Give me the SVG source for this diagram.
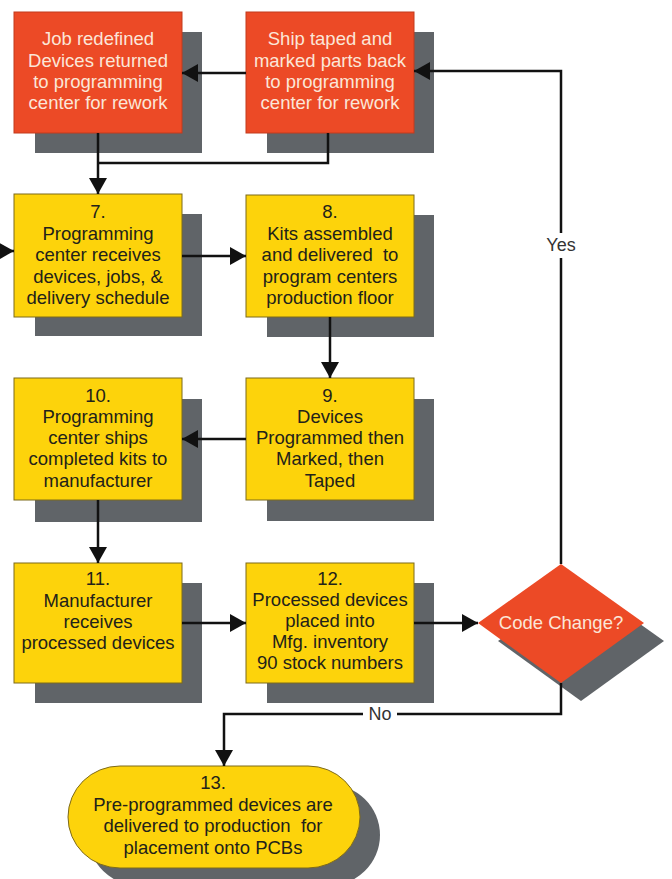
<svg xmlns="http://www.w3.org/2000/svg" width="672" height="879" viewBox="0 0 672 879">
<defs>
<style>
.sh{fill:#606468}
.red{fill:#ec4a26;stroke:#c23a1c;stroke-width:1}
.yel{fill:#fdd30b;stroke:#7d6a1a;stroke-width:1}
.t{font-family:"Liberation Sans",Arial,sans-serif;font-size:18.5px;text-anchor:middle;white-space:pre}
.dk{fill:#22221a}
.lt{fill:#fbe6d8}
.ln{fill:none;stroke:#111;stroke-width:2.5}
.lbl{font-family:"Liberation Sans",Arial,sans-serif;font-size:18px;text-anchor:middle;fill:#333}
</style>
<marker id="ah" markerUnits="userSpaceOnUse" viewBox="0 0 16 18" refX="16" refY="9" markerWidth="16" markerHeight="18" orient="auto">
<path d="M0,0 L16,9 L0,18 z" fill="#111"/>
</marker>
</defs>
<rect width="672" height="879" fill="#fff"/>

<g id="n1">
<rect class="sh" x="35" y="32" width="167" height="121"/>
<rect class="red" x="14" y="12" width="168" height="121"/>
<text class="t lt"><tspan x="98" y="45">Job redefined</tspan><tspan x="98" y="67">Devices returned</tspan><tspan x="98" y="88">to programming</tspan><tspan x="98" y="109">center for rework</tspan></text>
</g>
<g id="n2">
<rect class="sh" x="267" y="32" width="167" height="121"/>
<rect class="red" x="246" y="12" width="168" height="121"/>
<text class="t lt"><tspan x="330" y="45">Ship taped and</tspan><tspan x="330" y="67">marked parts back</tspan><tspan x="330" y="88">to programming</tspan><tspan x="330" y="109">center for rework</tspan></text>
</g>
<g id="n7">
<rect class="sh" x="35" y="214" width="167" height="122"/>
<rect class="yel" x="14" y="194" width="168" height="123"/>
<text class="t dk"><tspan x="98" y="218">7.</tspan><tspan x="98" y="240">Programming</tspan><tspan x="98" y="261">center receives</tspan><tspan x="98" y="283">devices, jobs, &amp;</tspan><tspan x="98" y="304">delivery schedule</tspan></text>
</g>
<g id="n8">
<rect class="sh" x="267" y="215" width="167" height="122"/>
<rect class="yel" x="246" y="195" width="168" height="122"/>
<text class="t dk" xml:space="preserve"><tspan x="330" y="218">8.</tspan><tspan x="330" y="240">Kits assembled</tspan><tspan x="330" y="261">and delivered  to</tspan><tspan x="330" y="283">program centers</tspan><tspan x="330" y="304">production floor</tspan></text>
</g>
<g id="n10">
<rect class="sh" x="35" y="399" width="167" height="123"/>
<rect class="yel" x="14" y="378" width="168" height="122"/>
<text class="t dk"><tspan x="98" y="402">10.</tspan><tspan x="98" y="423">Programming</tspan><tspan x="98" y="444">center ships</tspan><tspan x="98" y="465">completed kits to</tspan><tspan x="98" y="487">manufacturer</tspan></text>
</g>
<g id="n9">
<rect class="sh" x="267" y="399" width="167" height="122"/>
<rect class="yel" x="246" y="378" width="168" height="122"/>
<text class="t dk"><tspan x="330" y="402">9.</tspan><tspan x="330" y="423">Devices</tspan><tspan x="330" y="444">Programmed then</tspan><tspan x="330" y="465">Marked, then</tspan><tspan x="330" y="487">Taped</tspan></text>
</g>
<g id="n11">
<rect class="sh" x="35" y="583" width="167" height="120"/>
<rect class="yel" x="14" y="563" width="168" height="120"/>
<text class="t dk"><tspan x="98" y="585">11.</tspan><tspan x="98" y="607">Manufacturer</tspan><tspan x="98" y="628">receives</tspan><tspan x="98" y="649">processed devices</tspan></text>
</g>
<g id="n12">
<rect class="sh" x="267" y="583" width="167" height="120"/>
<rect class="yel" x="246" y="563" width="168" height="120"/>
<text class="t dk"><tspan x="330" y="585">12.</tspan><tspan x="330" y="606">Processed devices</tspan><tspan x="330" y="627">placed into</tspan><tspan x="330" y="648">Mfg. inventory</tspan><tspan x="330" y="669">90 stock numbers</tspan></text>
</g>
<g id="decision">
<polygon class="sh" points="581,582 664,641 581,701 498,641"/>
<polygon fill="#ec4a26" points="561,564 644,623 561,683 478,623"/>
<text class="t lt" x="561" y="629">Code Change?</text>
</g>
<g id="n13">
<rect class="sh" x="88" y="784" width="292" height="102" rx="52" ry="51"/>
<rect class="yel" x="68" y="766" width="292" height="102" rx="52" ry="51"/>
<text class="t dk" xml:space="preserve"><tspan x="213" y="789">13.</tspan><tspan x="213" y="811">Pre-programmed devices are</tspan><tspan x="213" y="832">delivered to production  for</tspan><tspan x="213" y="854">placement onto PCBs</tspan></text>
</g>

<g id="connectors">
<path class="ln" d="M246,73 H182" marker-end="url(#ah)"/>
<path class="ln" d="M98,133 V194" marker-end="url(#ah)"/>
<path class="ln" d="M328,133 V163 H98"/>
<path class="ln" d="M0,251 H14" marker-end="url(#ah)"/>
<path class="ln" d="M182,256 H246" marker-end="url(#ah)"/>
<path class="ln" d="M330,317 V378" marker-end="url(#ah)"/>
<path class="ln" d="M246,439 H182" marker-end="url(#ah)"/>
<path class="ln" d="M98,500 V563" marker-end="url(#ah)"/>
<path class="ln" d="M182,623 H246" marker-end="url(#ah)"/>
<path class="ln" d="M414,623 H478" marker-end="url(#ah)"/>
<path class="ln" d="M561,564 V258"/>
<path class="ln" d="M561,233 V71 H414" marker-end="url(#ah)"/>
<text class="lbl" x="561" y="251">Yes</text>
<path class="ln" d="M561,683 V714 H397"/>
<path class="ln" d="M363,714 H224 V766" marker-end="url(#ah)"/>
<text class="lbl" x="380" y="720">No</text>
</g>
</svg>
